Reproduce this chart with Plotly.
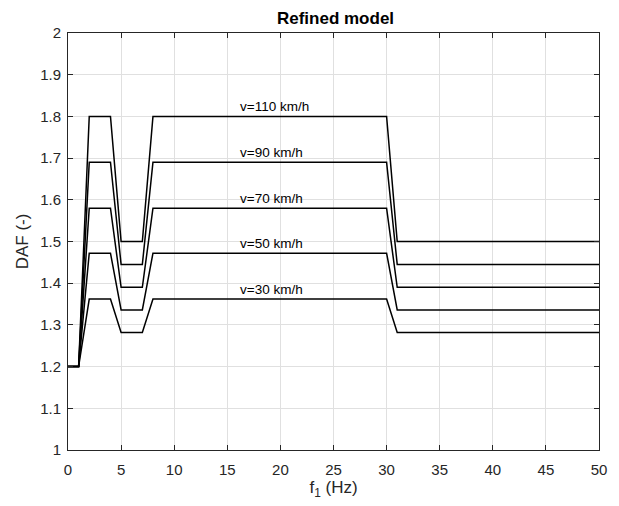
import plotly.graph_objects as go

f1 = [0, 1, 2, 4, 5, 7, 8, 30, 31, 50]
speeds = ["v=110 km/h", "v=90 km/h", "v=70 km/h", "v=50 km/h", "v=30 km/h"]
peak = [1.80, 1.69, 1.58, 1.472, 1.362]
dip = [1.50, 1.445, 1.39, 1.336, 1.282]
base = 1.2
label_x = 16

xticks = list(range(0, 51, 5))
yticks = [1, 1.1, 1.2, 1.3, 1.4, 1.5, 1.6, 1.7, 1.8, 1.9, 2]
ytick_text = ["1", "1.1", "1.2", "1.3", "1.4", "1.5", "1.6", "1.7", "1.8", "1.9", "2"]

fig = go.Figure()
for name, p, d in zip(speeds, peak, dip):
    y = [base, base, p, p, d, d, p, p, d, d]
    fig.add_trace(go.Scatter(x=f1, y=y, mode="lines", name=name,
                             line=dict(color="black", width=1.5), showlegend=False))
    fig.add_annotation(x=label_x, y=p, text=name, showarrow=False,
                       xanchor="left", yanchor="bottom", yshift=0,
                       font=dict(size=13.5, color="black"))

axis_common = dict(showline=True, linecolor="#262626", linewidth=1, mirror="ticks",
                   ticks="inside", ticklen=5, tickcolor="#262626",
                   showgrid=True, gridcolor="#e0e0e0", gridwidth=1, zeroline=False,
                   tickfont=dict(size=15, color="#262626"))

fig.update_xaxes(range=[0, 50], tickvals=xticks, ticklabelstandoff=6,
                 title=dict(text="f<sub>1</sub> (Hz)", font=dict(size=17, color="#262626"), standoff=2),
                 **axis_common)
fig.update_yaxes(range=[1, 2], tickvals=yticks, ticktext=ytick_text, ticklabelstandoff=3,
                 title=dict(text="DAF (-)", font=dict(size=17, color="#262626"), standoff=7),
                 **axis_common)

# the page body adds an 8 px margin, so the figure is 8 px smaller and its margins 8 px less
fig.update_layout(
    width=611, height=498,
    margin=dict(l=60, r=17, t=25, b=56),
    paper_bgcolor="white", plot_bgcolor="white",
    font=dict(family="Liberation Sans, Arial, sans-serif", color="#262626"),
    title=dict(text="<b>Refined model</b>", x=327.5 / 611, xanchor="center",
               y=1 - 10 / 498, yanchor="middle", font=dict(size=17, color="black")),
)

fig.write_html("out.html")
